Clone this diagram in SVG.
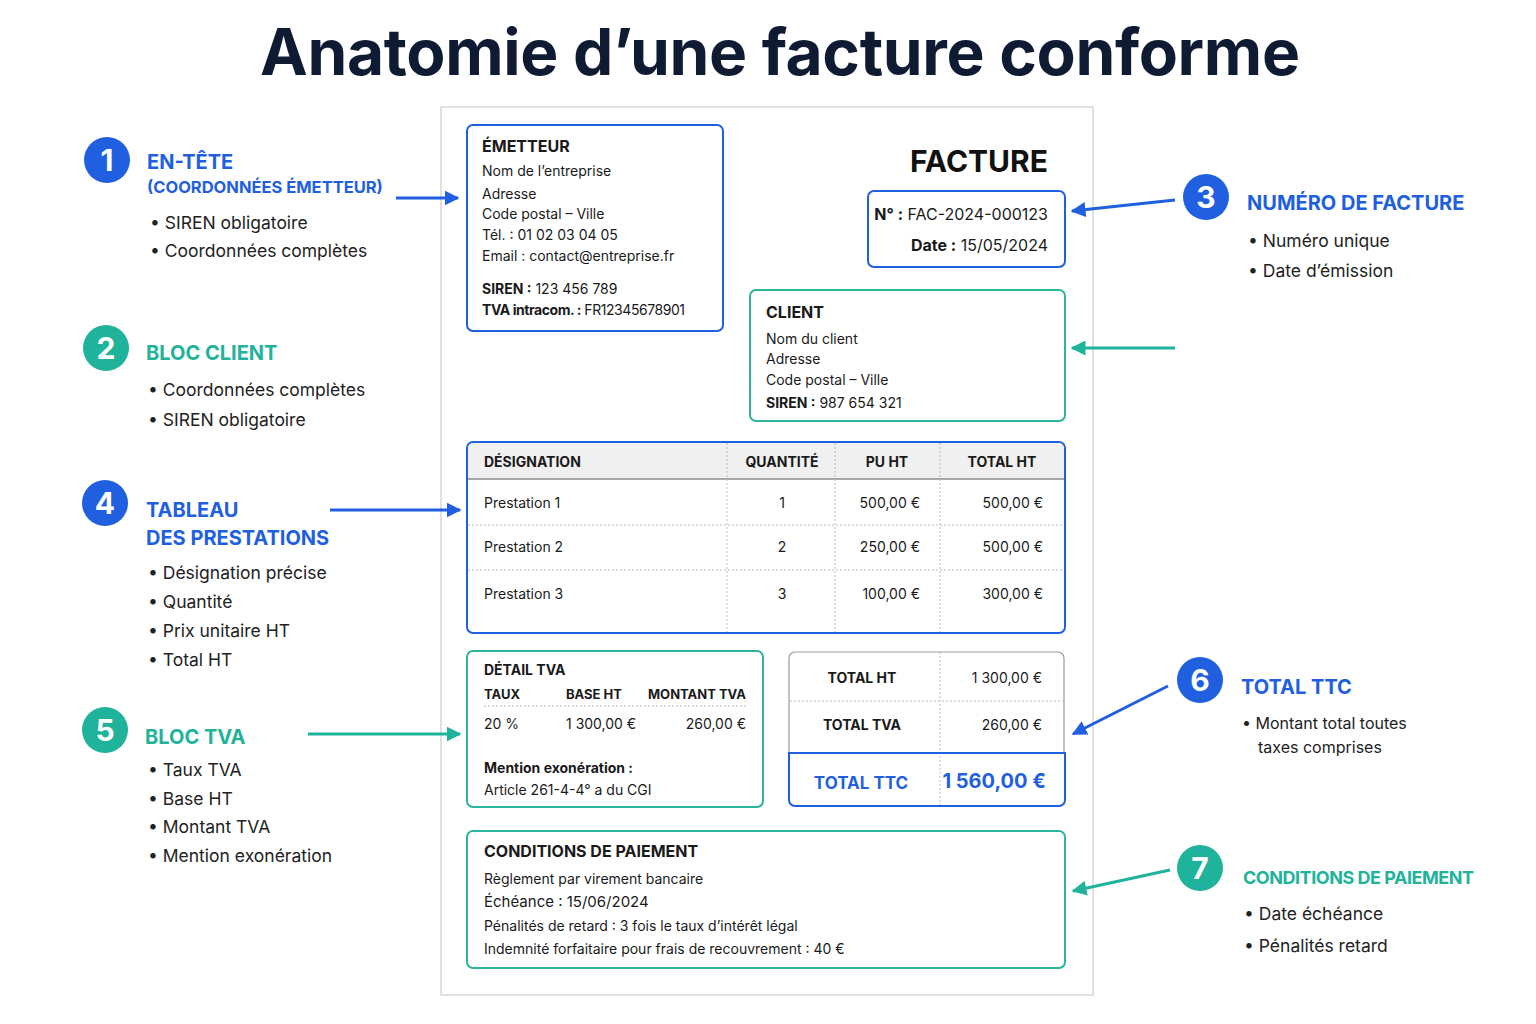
<svg xmlns="http://www.w3.org/2000/svg" width="1536" height="1024" viewBox="0 0 1536 1024">
<defs>
<marker id="ab" viewBox="0 0 10 10" refX="9" refY="5" markerWidth="5" markerHeight="5" orient="auto"><path d="M0,0L10,5L0,10z" fill="#1f5fe0"/></marker>
<marker id="at" viewBox="0 0 10 10" refX="9" refY="5" markerWidth="5" markerHeight="5" orient="auto"><path d="M0,0L10,5L0,10z" fill="#1fb39b"/></marker>
</defs>
<style>
text{font-family:Inter,"Noto Sans",sans-serif;fill:#1a1a1a}
.t{font-size:14px}
.b{font-weight:700}
.h{font-size:16px;font-weight:700}
.lb{font-size:20px;font-weight:700;fill:#1f5fe0}
.lt{font-size:20px;font-weight:700;fill:#1fb39b}
.li{font-size:17.5px;fill:#222}
.num{font-size:30px;font-weight:700;fill:#fff;text-anchor:middle}
.bb{fill:#fff;stroke:#1f5fe0;stroke-width:2}
.tb{fill:#fff;stroke:#2bb59d;stroke-width:2}
.dot{stroke:#bbb;stroke-width:1;stroke-dasharray:2 2}
.cb{stroke:#1f5fe0;stroke-width:3;fill:none}
.ct{stroke:#1fb39b;stroke-width:3;fill:none}
</style>
<rect width="1536" height="1024" fill="#fff"/>
<text x="780" y="75" text-anchor="middle" textLength="1040" style="font-size:64px;font-weight:700;fill:#0f1a33">Anatomie d’une facture conforme</text>
<rect x="441" y="107" width="652" height="888" fill="#fff" stroke="#d6d6d6" stroke-width="1.5"/>

<g id="emetteur">
<rect class="bb" x="467" y="125" width="256" height="206" rx="6"/>
<text x="482" y="152" class="h">ÉMETTEUR</text>
<text x="482" y="176" class="t">Nom de l’entreprise</text>
<text x="482" y="199" class="t">Adresse</text>
<text x="482" y="219" class="t">Code postal – Ville</text>
<text x="482" y="240" class="t">Tél. : 01 02 03 04 05</text>
<text x="482" y="261" class="t">Email : contact@entreprise.fr</text>
<text x="482" y="294" class="t"><tspan class="b">SIREN :</tspan> 123 456 789</text>
<text x="482" y="315" class="t" textLength="203"><tspan class="b">TVA intracom. :</tspan> FR12345678901</text>
</g>
<g id="facture">
<text x="1048" y="172" text-anchor="end" style="font-size:30px;font-weight:700;fill:#111">FACTURE</text>
<rect class="bb" x="868" y="191" width="197" height="76" rx="6"/>
<text x="1048" y="220" text-anchor="end" style="font-size:16px"><tspan class="b">N° :</tspan> FAC-2024-000123</text>
<text x="1048" y="251" text-anchor="end" style="font-size:16px"><tspan class="b">Date :</tspan> 15/05/2024</text>
</g>
<g id="client">
<rect class="tb" x="750" y="290" width="315" height="131" rx="6"/>
<text x="766" y="318" class="h">CLIENT</text>
<text x="766" y="344" class="t">Nom du client</text>
<text x="766" y="364" class="t">Adresse</text>
<text x="766" y="385" class="t">Code postal – Ville</text>
<text x="766" y="408" class="t"><tspan class="b">SIREN :</tspan> 987 654 321</text>
</g>
<g id="tableau">
<rect class="bb" x="467" y="442" width="598" height="191" rx="6"/>
<path d="M468,479V449a6,6 0 0 1 6,-6H1058a6,6 0 0 1 6,6V479z" fill="#f0f0f0"/>
<line x1="467" y1="479" x2="1065" y2="479" stroke="#555" stroke-width="1.2"/>
<line class="dot" x1="727" y1="443" x2="727" y2="632"/>
<line class="dot" x1="835" y1="443" x2="835" y2="632"/>
<line class="dot" x1="940" y1="443" x2="940" y2="632"/>
<line class="dot" x1="468" y1="525" x2="1064" y2="525"/>
<line class="dot" x1="468" y1="570" x2="1064" y2="570"/>
<text x="484" y="467" class="t b">DÉSIGNATION</text>
<text x="782" y="467" class="t b" text-anchor="middle">QUANTITÉ</text>
<text x="887" y="467" class="t b" text-anchor="middle">PU HT</text>
<text x="1002" y="467" class="t b" text-anchor="middle">TOTAL HT</text>
<text x="484" y="508" class="t">Prestation 1</text><text x="782" y="508" class="t" text-anchor="middle">1</text><text x="920" y="508" class="t" text-anchor="end">500,00 €</text><text x="1043" y="508" class="t" text-anchor="end">500,00 €</text>
<text x="484" y="552" class="t">Prestation 2</text><text x="782" y="552" class="t" text-anchor="middle">2</text><text x="920" y="552" class="t" text-anchor="end">250,00 €</text><text x="1043" y="552" class="t" text-anchor="end">500,00 €</text>
<text x="484" y="599" class="t">Prestation 3</text><text x="782" y="599" class="t" text-anchor="middle">3</text><text x="920" y="599" class="t" text-anchor="end">100,00 €</text><text x="1043" y="599" class="t" text-anchor="end">300,00 €</text>
</g>
<g id="tva">
<rect class="tb" x="467" y="651" width="296" height="156" rx="6"/>
<text x="484" y="675" class="t b">DÉTAIL TVA</text>
<text x="484" y="699" style="font-size:13px;font-weight:700">TAUX</text>
<text x="566" y="699" style="font-size:13px;font-weight:700">BASE HT</text>
<text x="746" y="699" style="font-size:13px;font-weight:700" text-anchor="end">MONTANT TVA</text>
<line class="dot" x1="484" y1="706" x2="746" y2="706"/>
<text x="484" y="729" class="t">20 %</text>
<text x="566" y="729" class="t">1 300,00 €</text>
<text x="746" y="729" class="t" text-anchor="end">260,00 €</text>
<text x="484" y="773" class="t b">Mention exonération :</text>
<text x="484" y="795" class="t">Article 261-4-4° a du CGI</text>
</g>
<g id="totaux">
<path d="M789,753V658a6,6 0 0 1 6,-6H1058a6,6 0 0 1 6,6V753" fill="#fff" stroke="#999" stroke-width="1.2"/>
<line class="dot" x1="940" y1="652" x2="940" y2="806"/>
<line class="dot" x1="790" y1="701" x2="1064" y2="701"/>
<path d="M789,753H1065V800a6,6 0 0 1 -6,6H795a6,6 0 0 1 -6,-6z" fill="none" stroke="#1f5fe0" stroke-width="2"/>
<text x="862" y="683" class="t b" text-anchor="middle">TOTAL HT</text>
<text x="1042" y="683" class="t" text-anchor="end">1 300,00 €</text>
<text x="862" y="730" class="t b" text-anchor="middle">TOTAL TVA</text>
<text x="1042" y="730" class="t" text-anchor="end">260,00 €</text>
<text x="861" y="789" text-anchor="middle" style="font-size:17px;font-weight:700;fill:#1f5fe0">TOTAL TTC</text>
<text x="1046" y="788" text-anchor="end" style="font-size:20px;font-weight:700;fill:#1f5fe0">1 560,00 €</text>
</g>
<g id="conditions">
<rect class="tb" x="467" y="831" width="598" height="137" rx="6"/>
<text x="484" y="857" class="h">CONDITIONS DE PAIEMENT</text>
<text x="484" y="884" class="t">Règlement par virement bancaire</text>
<text x="484" y="907" style="font-size:15px">Échéance :  15/06/2024</text>
<text x="484" y="931" class="t">Pénalités de retard : 3 fois le taux d’intérêt légal</text>
<text x="484" y="954" class="t">Indemnité forfaitaire pour frais de recouvrement : 40 €</text>
</g>

<g id="callout1">
<circle cx="107" cy="160" r="23" fill="#1f5fe0"/><text x="107" y="171" class="num">1</text>
<text x="147" y="169" class="lb">EN-TÊTE</text>
<text x="147" y="193" style="font-size:16.5px;font-weight:700;fill:#1f5fe0">(COORDONNÉES ÉMETTEUR)</text>
<text x="150" y="229" class="li">•  SIREN obligatoire</text>
<text x="150" y="257" class="li">•  Coordonnées complètes</text>
</g>
<g id="callout2">
<circle cx="106" cy="348" r="23" fill="#1fb39b"/><text x="106" y="359" class="num">2</text>
<text x="146" y="360" class="lt">BLOC CLIENT</text>
<text x="148" y="396" class="li">•  Coordonnées complètes</text>
<text x="148" y="426" class="li">•  SIREN obligatoire</text>
</g>
<g id="callout4">
<circle cx="105" cy="503" r="23" fill="#1f5fe0"/><text x="105" y="514" class="num">4</text>
<text x="146" y="517" class="lb">TABLEAU</text>
<text x="146" y="545" class="lb">DES PRESTATIONS</text>
<text x="148" y="579" class="li">•  Désignation précise</text>
<text x="148" y="608" class="li">•  Quantité</text>
<text x="148" y="637" class="li">•  Prix unitaire HT</text>
<text x="148" y="666" class="li">•  Total HT</text>
</g>
<g id="callout5">
<circle cx="105" cy="730" r="23" fill="#1fb39b"/><text x="105" y="741" class="num">5</text>
<text x="145" y="744" class="lt">BLOC TVA</text>
<text x="148" y="776" class="li">•  Taux TVA</text>
<text x="148" y="805" class="li">•  Base HT</text>
<text x="148" y="833" class="li">•  Montant TVA</text>
<text x="148" y="862" class="li">•  Mention exonération</text>
</g>
<g id="callout3">
<circle cx="1206" cy="197" r="23" fill="#1f5fe0"/><text x="1206" y="208" class="num">3</text>
<text x="1247" y="210" class="lb">NUMÉRO DE FACTURE</text>
<text x="1248" y="247" class="li">•  Numéro unique</text>
<text x="1248" y="277" class="li">•  Date d’émission</text>
</g>
<g id="callout6">
<circle cx="1200" cy="680" r="23" fill="#1f5fe0"/><text x="1200" y="691" class="num">6</text>
<text x="1241" y="694" class="lb">TOTAL TTC</text>
<text x="1242" y="729" style="font-size:16px;fill:#222">•  Montant total toutes</text>
<text x="1258" y="753" style="font-size:16px;fill:#222">taxes comprises</text>
</g>
<g id="callout7">
<circle cx="1200" cy="868" r="23" fill="#1fb39b"/><text x="1200" y="879" class="num">7</text>
<text x="1243" y="884" class="lt" style="font-size:18px" textLength="231">CONDITIONS DE PAIEMENT</text>
<text x="1244" y="920" class="li">•  Date échéance</text>
<text x="1244" y="952" class="li">•  Pénalités retard</text>
</g>

<g id="connectors">
<line class="cb" x1="396" y1="198" x2="458" y2="198" marker-end="url(#ab)"/>
<line class="cb" x1="1175" y1="200" x2="1072" y2="211" marker-end="url(#ab)"/>
<line class="ct" x1="1175" y1="348" x2="1072" y2="348" marker-end="url(#at)"/>
<line class="cb" x1="330" y1="510" x2="460" y2="510" marker-end="url(#ab)"/>
<line class="ct" x1="308" y1="734" x2="460" y2="734" marker-end="url(#at)"/>
<line class="cb" x1="1168" y1="686" x2="1073" y2="734" marker-end="url(#ab)"/>
<line class="ct" x1="1170" y1="870" x2="1073" y2="891" marker-end="url(#at)"/>
</g>
</svg>
